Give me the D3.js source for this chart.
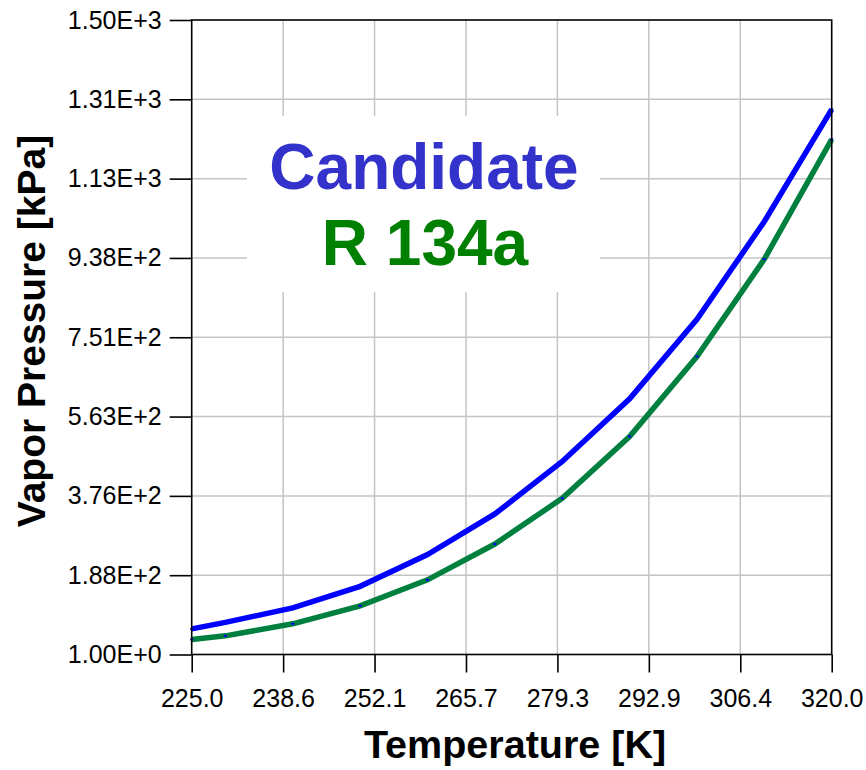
<!DOCTYPE html>
<html>
<head>
<meta charset="utf-8">
<script src="https://cdn.jsdelivr.net/npm/d3@7"></script>
<style>
	body { margin: 0; background: #fff; }
	svg { font-family: 'Liberation Sans', Arial, sans-serif; }
</style>
</head>
<body>
<div id="chart"></div>
<script>
// temperatures [K] and vapor pressures [kPa]
const temperatures = [225, 230, 240, 250, 260, 270, 280, 290, 300, 310, 320];
const candidatePressure = [61.5, 77, 111, 162, 237, 333, 457, 605, 793, 1024, 1289];
const r134aPressure = [36.4, 45.1, 73.5, 116, 177.4, 262, 370, 516, 705, 935, 1218];

const xTickLabels = ['225.0', '238.6', '252.1', '265.7', '279.3', '292.9', '306.4', '320.0'];
const yTickLabels = ['1.00E+0', '1.88E+2', '3.76E+2', '5.63E+2', '7.51E+2', '9.38E+2', '1.13E+3', '1.31E+3', '1.50E+3'];

const W = 866, H = 770;
const plot = { left: 191.7, right: 831.7, top: 20, bottom: 654.5 };

const svg = d3.select('#chart').append('svg').attr('width', W).attr('height', H);

const xScale = d3.scaleLinear().domain([225, 320]).range([plot.left, plot.right]);
const yScale = d3.scaleLinear().domain([1, 1500]).range([plot.bottom, plot.top]);

const xTicks = xTickLabels.map((d, i) => 225 + i * 95 / 7);
const yTicks = yTickLabels.map((d, i) => 1 + i * 1499 / 8);

// grid
const grid = svg.append('g').attr('stroke', '#c4c4c4').attr('stroke-width', 1.5);
grid.selectAll('.vg').data(xTicks.slice(1, -1)).enter().append('line')
	.attr('x1', xScale).attr('x2', xScale).attr('y1', plot.top).attr('y2', plot.bottom);
grid.selectAll('.hg').data(yTicks.slice(1, -1)).enter().append('line')
	.attr('x1', plot.left).attr('x2', plot.right).attr('y1', yScale).attr('y2', yScale);

// white box behind the legend text
svg.append('rect').attr('x', 247).attr('y', 116).attr('width', 353).attr('height', 176).attr('fill', '#fff');

// lines
const line = d3.line().x((d, i) => xScale(temperatures[i])).y(d => yScale(d));
svg.append('path').datum(candidatePressure).attr('d', line)
	.attr('fill', 'none').attr('stroke', '#0000ff').attr('stroke-width', 5.5);
svg.append('path').datum(r134aPressure).attr('d', line)
	.attr('fill', 'none').attr('stroke', '#00803f').attr('stroke-width', 5.5);

// tiny point markers
[candidatePressure, r134aPressure].forEach(series => {
	svg.append('g').selectAll('rect').data(series).enter().append('rect')
		.attr('x', (d, i) => xScale(temperatures[i]) - 1.5)
		.attr('y', d => yScale(d) - 1)
		.attr('width', 3).attr('height', 2)
		.attr('fill', '#0000ff');
});

// axes
const yAxis = d3.axisLeft(yScale).tickValues(yTicks).tickFormat((d, i) => yTickLabels[i])
	.tickSize(22).tickPadding(8);
const xAxis = d3.axisBottom(xScale).tickValues(xTicks).tickFormat((d, i) => xTickLabels[i])
	.tickSize(18).tickPadding(17);

const gy = svg.append('g').attr('transform', 'translate(' + plot.left + ',0)').call(yAxis);
const gx = svg.append('g').attr('transform', 'translate(0,' + plot.bottom + ')').call(xAxis);
[gx, gy].forEach(g => {
	g.select('.domain').remove();
	g.selectAll('line').attr('stroke', '#000').attr('stroke-width', 1.6);
	g.selectAll('text').attr('fill', '#000').style('font-size', '25px').style('font-family', "'Liberation Sans', Arial, sans-serif");
});

// frame
svg.append('rect').attr('x', plot.left).attr('y', plot.top)
	.attr('width', plot.right - plot.left).attr('height', plot.bottom - plot.top)
	.attr('fill', 'none').attr('stroke', '#000').attr('stroke-width', 1.6);

// legend text
svg.append('text').attr('x', 424).attr('y', 189).attr('text-anchor', 'middle')
	.style('font-size', '64px').style('font-weight', 'bold').attr('fill', '#3333cc').text('Candidate');
svg.append('text').attr('x', 425).attr('y', 265).attr('text-anchor', 'middle')
	.style('font-size', '64px').style('font-weight', 'bold').attr('fill', '#008000').text('R 134a');

// axis titles
svg.append('text').attr('x', 515).attr('y', 758).attr('text-anchor', 'middle')
	.style('font-size', '39.5px').style('font-weight', 'bold').text('Temperature [K]');
svg.append('text').attr('transform', 'translate(45,331) rotate(-90)').attr('text-anchor', 'middle')
	.style('font-size', '39px').style('font-weight', 'bold').text('Vapor Pressure [kPa]');
</script>
</body>
</html>
